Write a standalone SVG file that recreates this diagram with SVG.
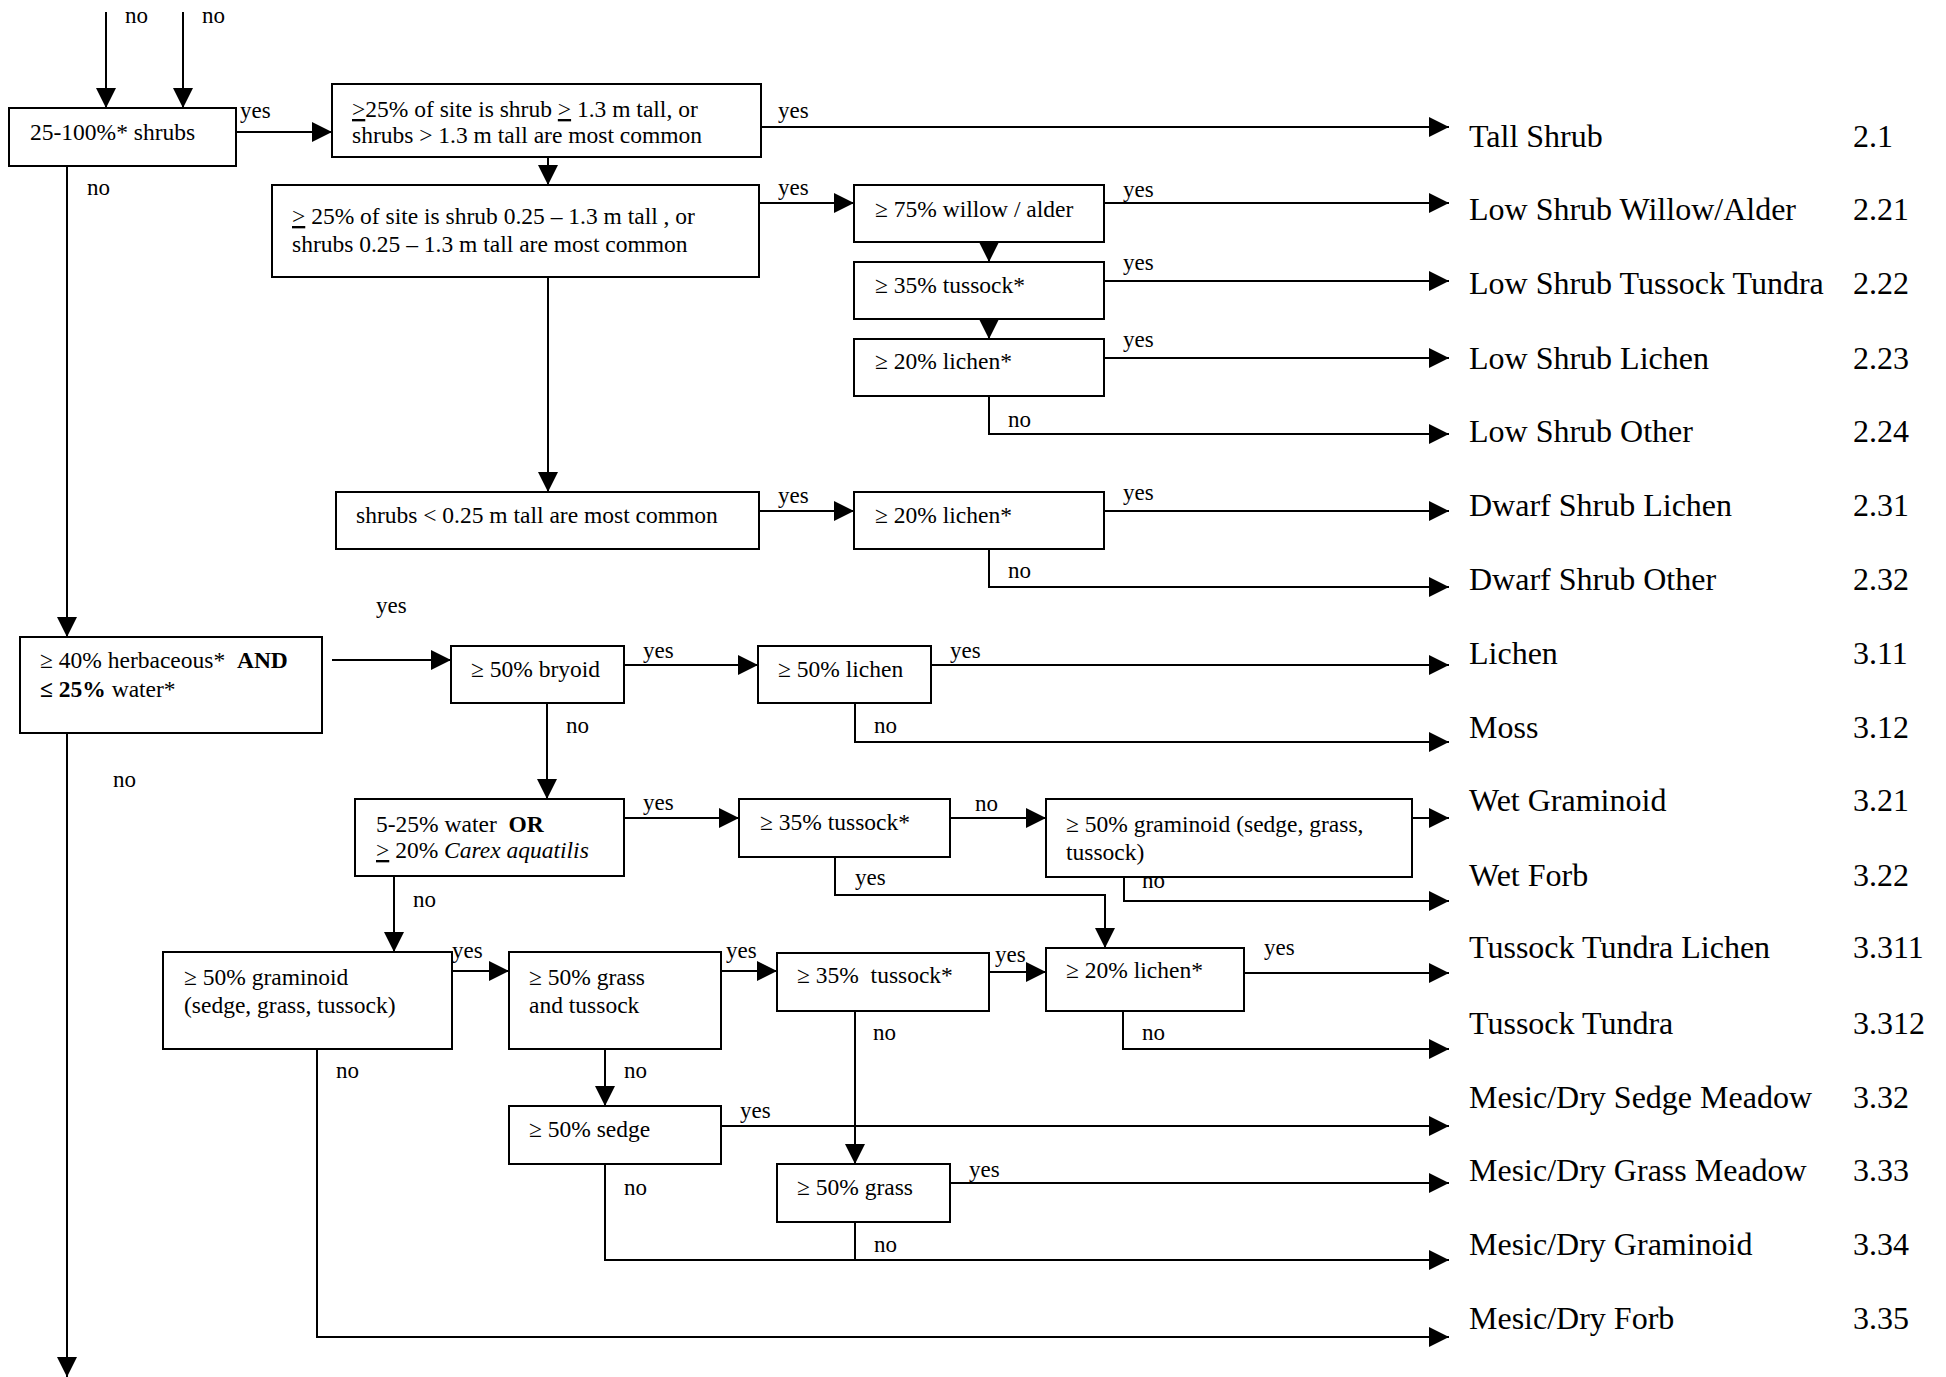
<svg xmlns="http://www.w3.org/2000/svg" width="1946" height="1377" viewBox="0 0 1946 1377">
<style>
text{font-family:"Liberation Serif","Times New Roman",serif;fill:#000;white-space:pre}
.t{font-size:23.5px}
.l{font-size:23px}
.r{font-size:32px}
.b{font-weight:bold}
.i{font-style:italic}
.u{text-decoration:underline}
rect{fill:#fff;stroke:#000;stroke-width:2}
#connectors path{fill:none;stroke:#000;stroke-width:2}
</style>
<defs>
<marker id="ah" markerUnits="userSpaceOnUse" markerWidth="20" markerHeight="20" refX="20" refY="10" orient="auto" viewBox="0 0 20 20">
<path d="M0,0 L20,10 L0,20 z" fill="#000"/>
</marker>
</defs>
<rect x="0" y="0" width="1946" height="1377" style="stroke:none"/>
<g id="connectors">
<path d="M106,12 V108" marker-end="url(#ah)"/>
<path d="M183,12 V108" marker-end="url(#ah)"/>
<path d="M236,132 H332" marker-end="url(#ah)"/>
<path d="M761,127 H1449" marker-end="url(#ah)"/>
<path d="M548,157 V185" marker-end="url(#ah)"/>
<path d="M759,203 H854" marker-end="url(#ah)"/>
<path d="M1104,203 H1449" marker-end="url(#ah)"/>
<path d="M989,242 V262" marker-end="url(#ah)"/>
<path d="M1104,281 H1449" marker-end="url(#ah)"/>
<path d="M989,319 V339" marker-end="url(#ah)"/>
<path d="M1104,358 H1449" marker-end="url(#ah)"/>
<path d="M989,396 V434 H1449" marker-end="url(#ah)"/>
<path d="M548,277 V492" marker-end="url(#ah)"/>
<path d="M759,511 H854" marker-end="url(#ah)"/>
<path d="M1104,511 H1449" marker-end="url(#ah)"/>
<path d="M989,549 V587 H1449" marker-end="url(#ah)"/>
<path d="M67,166 V637" marker-end="url(#ah)"/>
<path d="M332,660 H451" marker-end="url(#ah)"/>
<path d="M624,665 H758" marker-end="url(#ah)"/>
<path d="M931,665 H1449" marker-end="url(#ah)"/>
<path d="M855,703 V742 H1449" marker-end="url(#ah)"/>
<path d="M547,703 V799" marker-end="url(#ah)"/>
<path d="M67,733 V1377" marker-end="url(#ah)"/>
<path d="M624,818 H739" marker-end="url(#ah)"/>
<path d="M950,818 H1046" marker-end="url(#ah)"/>
<path d="M1412,818 H1449" marker-end="url(#ah)"/>
<path d="M1124,875 V901 H1449" marker-end="url(#ah)"/>
<path d="M835,857 V895 H1105 V948" marker-end="url(#ah)"/>
<path d="M394,876 V952" marker-end="url(#ah)"/>
<path d="M1244,973 H1449" marker-end="url(#ah)"/>
<path d="M1123,1011 V1049 H1449" marker-end="url(#ah)"/>
<path d="M452,971 H509" marker-end="url(#ah)"/>
<path d="M721,971 H777" marker-end="url(#ah)"/>
<path d="M989,972 H1046" marker-end="url(#ah)"/>
<path d="M605,1049 V1106" marker-end="url(#ah)"/>
<path d="M721,1126 H1449" marker-end="url(#ah)"/>
<path d="M605,1164 V1260 H1449" marker-end="url(#ah)"/>
<path d="M855,1011 V1164" marker-end="url(#ah)"/>
<path d="M950,1183 H1449" marker-end="url(#ah)"/>
<path d="M855,1222 V1260"/>
<path d="M317,1049 V1337 H1449" marker-end="url(#ah)"/>
<g class="labels">
<text class="l" x="125" y="23">no</text>
<text class="l" x="202" y="23">no</text>
<text class="l" x="240" y="118">yes</text>
<text class="l" x="778" y="118">yes</text>
<text class="l" x="778" y="195">yes</text>
<text class="l" x="1123" y="197">yes</text>
<text class="l" x="1123" y="270">yes</text>
<text class="l" x="1123" y="347">yes</text>
<text class="l" x="1008" y="427">no</text>
<text class="l" x="778" y="503">yes</text>
<text class="l" x="1123" y="500">yes</text>
<text class="l" x="1008" y="578">no</text>
<text class="l" x="87" y="195">no</text>
<text class="l" x="376" y="613">yes</text>
<text class="l" x="643" y="658">yes</text>
<text class="l" x="950" y="658">yes</text>
<text class="l" x="874" y="733">no</text>
<text class="l" x="566" y="733">no</text>
<text class="l" x="113" y="787">no</text>
<text class="l" x="643" y="810">yes</text>
<text class="l" x="975" y="811">no</text>
<text class="l" x="1142" y="888">no</text>
<text class="l" x="855" y="885">yes</text>
<text class="l" x="413" y="907">no</text>
<text class="l" x="1264" y="955">yes</text>
<text class="l" x="1142" y="1040">no</text>
<text class="l" x="452" y="958">yes</text>
<text class="l" x="726" y="958">yes</text>
<text class="l" x="995" y="962">yes</text>
<text class="l" x="624" y="1078">no</text>
<text class="l" x="740" y="1118">yes</text>
<text class="l" x="624" y="1195">no</text>
<text class="l" x="873" y="1040">no</text>
<text class="l" x="969" y="1177">yes</text>
<text class="l" x="874" y="1252">no</text>
<text class="l" x="336" y="1078">no</text>
</g>
</g>
<g id="n_shrubs"><rect x="9" y="108" width="227" height="58"/><text class="t" x="30" y="140">25-100%* shrubs</text></g>
<g id="n_tall"><rect x="332" y="84" width="429" height="73"/><text class="t" x="352" y="117"><tspan class="u">&gt;</tspan>25% of site is shrub <tspan class="u">&gt;</tspan> 1.3 m tall, or</text><text class="t" x="352" y="143">shrubs &gt; 1.3 m tall are most common</text></g>
<g id="n_low"><rect x="272" y="185" width="487" height="92"/><text class="t" x="292" y="224"><tspan class="u">&gt;</tspan> 25% of site is shrub 0.25 – 1.3 m tall , or</text><text class="t" x="292" y="252">shrubs 0.25 – 1.3 m tall are most common</text></g>
<g id="n_willow"><rect x="854" y="185" width="250" height="57"/><text class="t" x="875" y="217">≥ 75% willow / alder</text></g>
<g id="n_tussock1"><rect x="854" y="262" width="250" height="57"/><text class="t" x="875" y="293">≥ 35% tussock*</text></g>
<g id="n_lichen1"><rect x="854" y="339" width="250" height="57"/><text class="t" x="875" y="369">≥ 20% lichen*</text></g>
<g id="n_dwarf"><rect x="336" y="492" width="423" height="57"/><text class="t" x="356" y="523">shrubs &lt; 0.25 m tall are most common</text></g>
<g id="n_lichen2"><rect x="854" y="492" width="250" height="57"/><text class="t" x="875" y="523">≥ 20% lichen*</text></g>
<g id="n_herb"><rect x="20" y="637" width="302" height="96"/><text class="t" x="40" y="668">≥ 40% herbaceous*  <tspan class="b">AND</tspan></text><text class="t" x="40" y="697"><tspan class="b">≤ 25%</tspan> water*</text></g>
<g id="n_bryoid"><rect x="451" y="646" width="173" height="57"/><text class="t" x="471" y="677">≥ 50% bryoid</text></g>
<g id="n_lichen50"><rect x="758" y="646" width="173" height="57"/><text class="t" x="778" y="677">≥ 50% lichen</text></g>
<g id="n_water"><rect x="355" y="799" width="269" height="77"/><text class="t" x="376" y="832">5-25% water  <tspan class="b">OR</tspan></text><text class="t" x="376" y="858"><tspan class="u">&gt;</tspan> 20% <tspan class="i">Carex aquatilis</tspan></text></g>
<g id="n_tussock2"><rect x="739" y="799" width="211" height="58"/><text class="t" x="760" y="830">≥ 35% tussock*</text></g>
<g id="n_gram_wet"><rect x="1046" y="799" width="366" height="78"/><text class="t" x="1066" y="832">≥ 50% graminoid (sedge, grass,</text><text class="t" x="1066" y="860">tussock)</text></g>
<g id="n_gram"><rect x="163" y="952" width="289" height="97"/><text class="t" x="184" y="985">≥ 50% graminoid</text><text class="t" x="184" y="1013">(sedge, grass, tussock)</text></g>
<g id="n_grass_tuss"><rect x="509" y="952" width="212" height="97"/><text class="t" x="529" y="985">≥ 50% grass</text><text class="t" x="529" y="1013">and tussock</text></g>
<g id="n_tussock3"><rect x="777" y="953" width="212" height="58"/><text class="t" x="797" y="983">≥ 35%  tussock*</text></g>
<g id="n_lichen3"><rect x="1046" y="948" width="198" height="63"/><text class="t" x="1066" y="978">≥ 20% lichen*</text></g>
<g id="n_sedge"><rect x="509" y="1106" width="212" height="58"/><text class="t" x="529" y="1137">≥ 50% sedge</text></g>
<g id="n_grass"><rect x="777" y="1164" width="173" height="58"/><text class="t" x="797" y="1195">≥ 50% grass</text></g>
<g id="t_21"><text class="r" x="1469" y="147">Tall Shrub</text><text class="r" x="1853" y="147">2.1</text></g>
<g id="t_221"><text class="r" x="1469" y="220">Low Shrub Willow/Alder</text><text class="r" x="1853" y="220">2.21</text></g>
<g id="t_222"><text class="r" x="1469" y="294">Low Shrub Tussock Tundra</text><text class="r" x="1853" y="294">2.22</text></g>
<g id="t_223"><text class="r" x="1469" y="369">Low Shrub Lichen</text><text class="r" x="1853" y="369">2.23</text></g>
<g id="t_224"><text class="r" x="1469" y="442">Low Shrub Other</text><text class="r" x="1853" y="442">2.24</text></g>
<g id="t_231"><text class="r" x="1469" y="516">Dwarf Shrub Lichen</text><text class="r" x="1853" y="516">2.31</text></g>
<g id="t_232"><text class="r" x="1469" y="590">Dwarf Shrub Other</text><text class="r" x="1853" y="590">2.32</text></g>
<g id="t_311"><text class="r" x="1469" y="664">Lichen</text><text class="r" x="1853" y="664">3.11</text></g>
<g id="t_312"><text class="r" x="1469" y="738">Moss</text><text class="r" x="1853" y="738">3.12</text></g>
<g id="t_321"><text class="r" x="1469" y="811">Wet Graminoid</text><text class="r" x="1853" y="811">3.21</text></g>
<g id="t_322"><text class="r" x="1469" y="886">Wet Forb</text><text class="r" x="1853" y="886">3.22</text></g>
<g id="t_3311"><text class="r" x="1469" y="958">Tussock Tundra Lichen</text><text class="r" x="1853" y="958">3.311</text></g>
<g id="t_3312"><text class="r" x="1469" y="1034">Tussock Tundra</text><text class="r" x="1853" y="1034">3.312</text></g>
<g id="t_332"><text class="r" x="1469" y="1108">Mesic/Dry Sedge Meadow</text><text class="r" x="1853" y="1108">3.32</text></g>
<g id="t_333"><text class="r" x="1469" y="1181">Mesic/Dry Grass Meadow</text><text class="r" x="1853" y="1181">3.33</text></g>
<g id="t_334"><text class="r" x="1469" y="1255">Mesic/Dry Graminoid</text><text class="r" x="1853" y="1255">3.34</text></g>
<g id="t_335"><text class="r" x="1469" y="1329">Mesic/Dry Forb</text><text class="r" x="1853" y="1329">3.35</text></g>
</svg>
